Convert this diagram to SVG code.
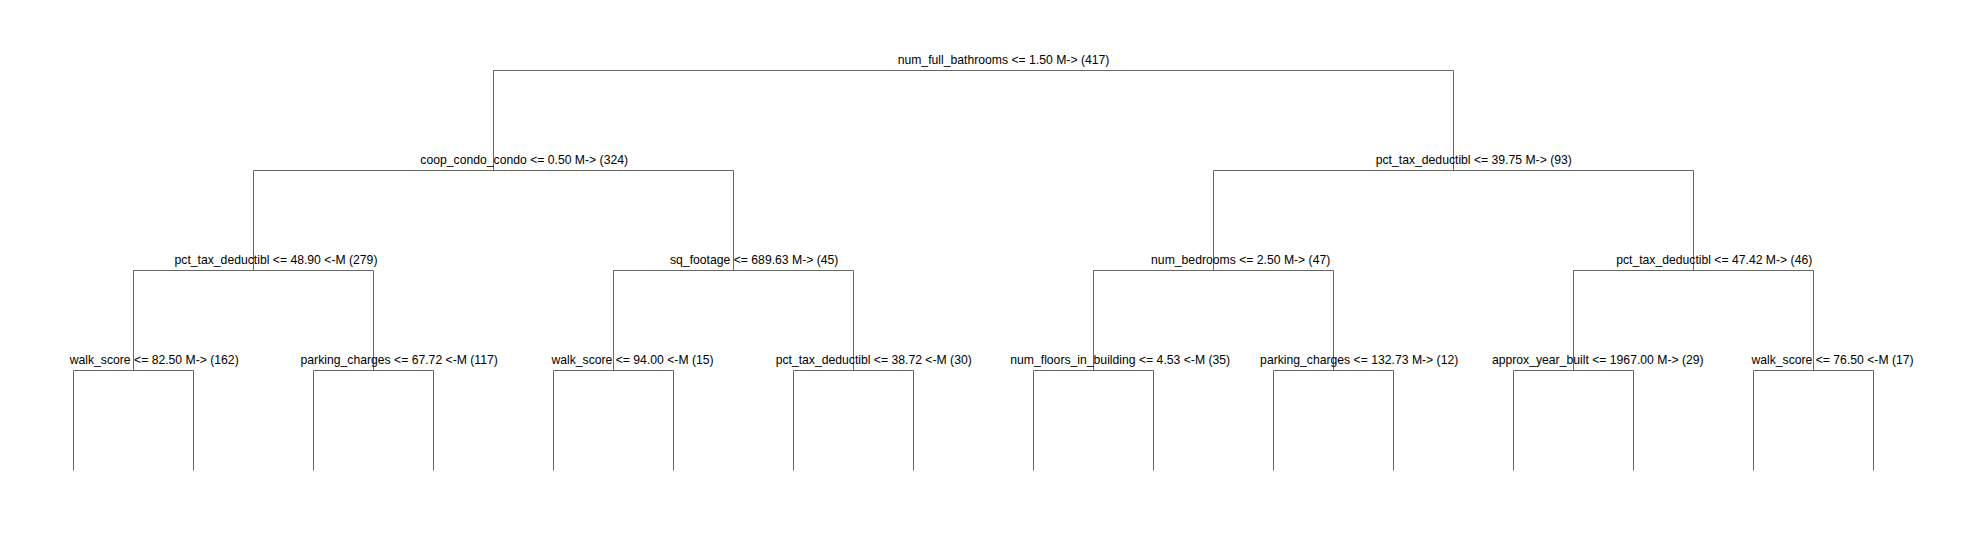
<svg xmlns="http://www.w3.org/2000/svg" width="1982" height="540" viewBox="0 0 1982 540">
<style>
  .bg { fill: #ffffff; }
  .edge { fill: none; stroke: #666666; stroke-width: 1; }
  .lbl { font-family: "Liberation Sans", Arial, sans-serif; font-size: 12.2px; fill: #000000; text-anchor: middle; }
</style>
<rect class="bg" x="0" y="0" width="1982" height="540"/>
<g id="connectors">
  <path class="edge" d="M493.5,170.5 V70.5 H1453.5 V170.5"/>
  <path class="edge" d="M253.5,270.5 V170.5 H733.5 V270.5"/>
  <path class="edge" d="M1213.5,270.5 V170.5 H1693.5 V270.5"/>
  <path class="edge" d="M133.5,370.5 V270.5 H373.5 V370.5"/>
  <path class="edge" d="M613.5,370.5 V270.5 H853.5 V370.5"/>
  <path class="edge" d="M1093.5,370.5 V270.5 H1333.5 V370.5"/>
  <path class="edge" d="M1573.5,370.5 V270.5 H1813.5 V370.5"/>
  <path class="edge" d="M73.5,470.5 V370.5 H193.5 V470.5"/>
  <path class="edge" d="M313.5,470.5 V370.5 H433.5 V470.5"/>
  <path class="edge" d="M553.5,470.5 V370.5 H673.5 V470.5"/>
  <path class="edge" d="M793.5,470.5 V370.5 H913.5 V470.5"/>
  <path class="edge" d="M1033.5,470.5 V370.5 H1153.5 V470.5"/>
  <path class="edge" d="M1273.5,470.5 V370.5 H1393.5 V470.5"/>
  <path class="edge" d="M1513.5,470.5 V370.5 H1633.5 V470.5"/>
  <path class="edge" d="M1753.5,470.5 V370.5 H1873.5 V470.5"/>
</g>
<g id="n_root"><text class="lbl" x="1003.5" y="64">num_full_bathrooms &lt;= 1.50 M-&gt; (417)</text></g>
<g id="n_L"><text class="lbl" x="524.2" y="164">coop_condo_condo &lt;= 0.50 M-&gt; (324)</text></g>
<g id="n_R"><text class="lbl" x="1473.8" y="164">pct_tax_deductibl &lt;= 39.75 M-&gt; (93)</text></g>
<g id="n_LL"><text class="lbl" x="276" y="264">pct_tax_deductibl &lt;= 48.90 &lt;-M (279)</text></g>
<g id="n_LR"><text class="lbl" x="754.2" y="264">sq_footage &lt;= 689.63 M-&gt; (45)</text></g>
<g id="n_RL"><text class="lbl" x="1240.7" y="264">num_bedrooms &lt;= 2.50 M-&gt; (47)</text></g>
<g id="n_RR"><text class="lbl" x="1714.2" y="264">pct_tax_deductibl &lt;= 47.42 M-&gt; (46)</text></g>
<g id="n_LLL"><text class="lbl" x="154.2" y="364">walk_score &lt;= 82.50 M-&gt; (162)</text></g>
<g id="n_LLR"><text class="lbl" x="399.2" y="364">parking_charges &lt;= 67.72 &lt;-M (117)</text></g>
<g id="n_LRL"><text class="lbl" x="632.5" y="364">walk_score &lt;= 94.00 &lt;-M (15)</text></g>
<g id="n_LRR"><text class="lbl" x="873.7" y="364">pct_tax_deductibl &lt;= 38.72 &lt;-M (30)</text></g>
<g id="n_RLL"><text class="lbl" x="1120.2" y="364">num_floors_in_building &lt;= 4.53 &lt;-M (35)</text></g>
<g id="n_RLR"><text class="lbl" x="1359.2" y="364">parking_charges &lt;= 132.73 M-&gt; (12)</text></g>
<g id="n_RRL"><text class="lbl" x="1597.8" y="364">approx_year_built &lt;= 1967.00 M-&gt; (29)</text></g>
<g id="n_RRR"><text class="lbl" x="1832.5" y="364">walk_score &lt;= 76.50 &lt;-M (17)</text></g>
</svg>
